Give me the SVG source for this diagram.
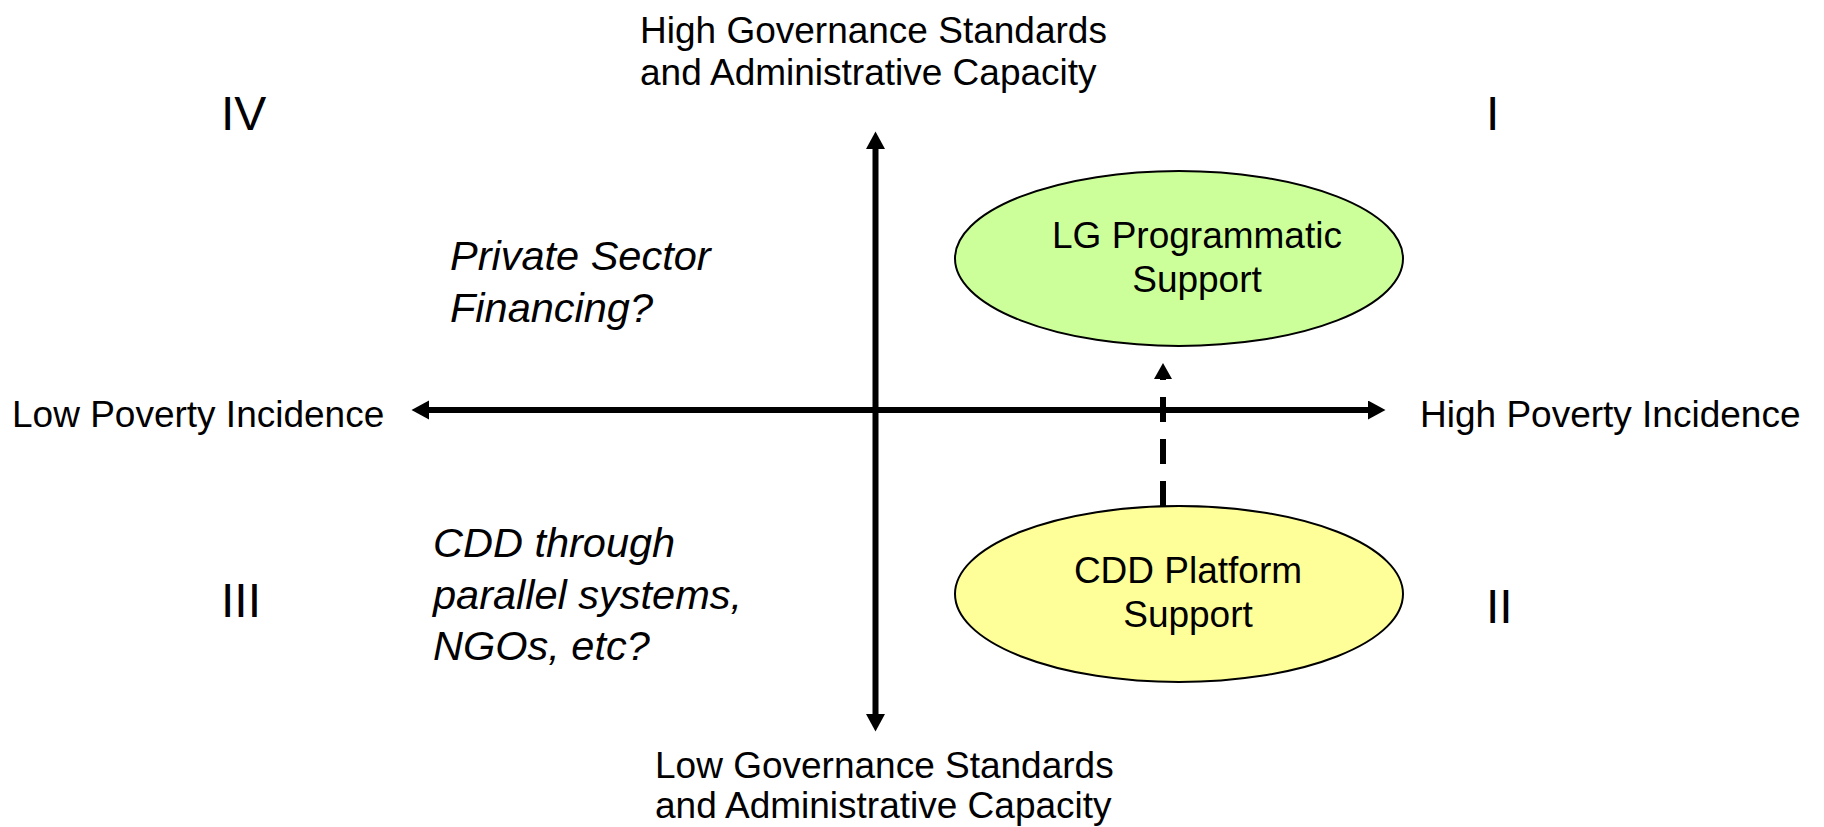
<svg xmlns="http://www.w3.org/2000/svg" width="1824" height="827" viewBox="0 0 1824 827">
<defs>
<style>
text{font-family:"Liberation Sans",Arial,sans-serif;fill:#000}
.lbl{font-size:37px}
.num{font-size:48px}
.it{font-size:41.5px;font-style:italic}
.node{font-size:37px;text-anchor:middle}
.axis{stroke:#000;stroke-width:6;fill:none}
.dash{stroke:#000;stroke-width:6;fill:none;stroke-dasharray:25 17}
.ell{stroke:#000;stroke-width:2}
</style>
<marker id="ah" markerUnits="userSpaceOnUse" markerWidth="18" markerHeight="20" refX="0" refY="9.5" orient="auto-start-reverse">
<path d="M0,0 L17.5,9.5 L0,19 Z" fill="#000"/>
</marker>
<marker id="ahd" markerUnits="userSpaceOnUse" markerWidth="18" markerHeight="20" refX="0" refY="9" orient="auto">
<path d="M0,0 L16,9 L0,18 Z" fill="#000"/>
</marker>
</defs>
<rect width="1824" height="827" fill="#fff"/>
<g id="connectors">
<line id="h-axis" class="axis" x1="429" y1="410" x2="1368" y2="410" marker-start="url(#ah)" marker-end="url(#ah)"/>
<line id="v-axis" class="axis" x1="875.5" y1="149" x2="875.5" y2="714" marker-start="url(#ah)" marker-end="url(#ah)"/>
<line id="cdd-to-lg" class="dash" x1="1163" y1="506" x2="1163" y2="379" marker-end="url(#ahd)"/>
</g>
<g id="axis-labels">
<text class="lbl" x="640" y="43">High Governance Standards</text>
<text class="lbl" x="640" y="85">and Administrative Capacity</text>
<text class="lbl" x="655" y="778">Low Governance Standards</text>
<text class="lbl" x="655" y="818">and Administrative Capacity</text>
<text class="lbl" x="12" y="427">Low Poverty Incidence</text>
<text class="lbl" x="1420" y="427">High Poverty Incidence</text>
</g>
<g id="quadrant-numbers">
<text class="num" x="221" y="130">IV</text>
<text class="num" x="1486" y="130">I</text>
<text class="num" x="221" y="617">III</text>
<text class="num" x="1486" y="623">II</text>
</g>
<g id="quadrant-notes">
<text class="it" x="450" y="270">Private Sector</text>
<text class="it" x="450" y="322">Financing?</text>
<text class="it" x="433" y="557">CDD through</text>
<text class="it" x="433" y="609">parallel systems,</text>
<text class="it" x="433" y="660">NGOs, etc?</text>
</g>
<g id="lg-programmatic-support">
<ellipse class="ell" cx="1179" cy="258.5" rx="224" ry="87.5" fill="#CCFF99"/>
<text class="node" x="1197" y="248">LG Programmatic</text>
<text class="node" x="1197" y="292">Support</text>
</g>
<g id="cdd-platform-support">
<ellipse class="ell" cx="1179" cy="594" rx="224" ry="88" fill="#FFFF99"/>
<text class="node" x="1188" y="583">CDD Platform</text>
<text class="node" x="1188" y="627">Support</text>
</g>
</svg>
